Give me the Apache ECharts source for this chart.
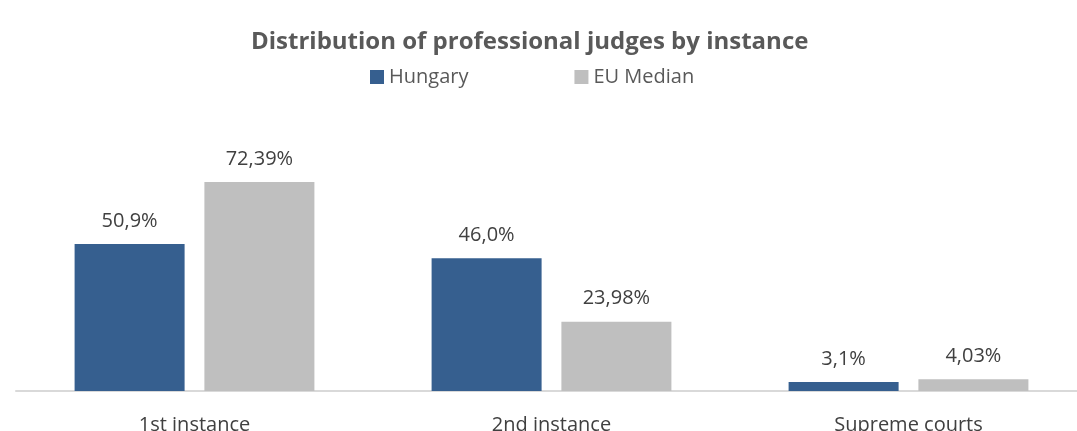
<!DOCTYPE html>
<html>
<head>
<meta charset="utf-8">
<script src="https://cdn.jsdelivr.net/npm/echarts@6/dist/echarts.min.js"></script>
<style>
  html, body { margin: 0; padding: 0; background: #fff; }
  #chart { width: 1077px; height: 431px; }
</style>
</head>
<body>
<div id="chart"></div>
<script>
var categories = ['1st instance', '2nd instance', 'Supreme courts'];
var hungary = [50.9, 46.0, 3.1];
var hungaryLabels = ['50,9%', '46,0%', '3,1%'];
var euMedian = [72.39, 23.98, 4.03];
var euLabels = ['72,39%', '23,98%', '4,03%'];

var font = '"Open Sans", Lato, sans-serif';
var myChart = echarts.init(document.getElementById('chart'));

function labelFrom(texts) {
    return {
        show: true,
        position: 'top',
        distance: 13,
        color: '#404040',
        fontSize: 20,
        fontFamily: font,
        formatter: function (p) { return texts[p.dataIndex]; }
    };
}

var option = {
    backgroundColor: '#fff',
    animation: false,
    title: {
        text: 'Distribution of professional judges by instance',
        left: 246,
        top: 25,
        textStyle: { color: '#595959', fontSize: 24, fontWeight: 'bold', fontFamily: font }
    },
    legend: {
        left: 365,
        top: 62,
        itemWidth: 14,
        itemHeight: 14,
        itemGap: 106,
        icon: 'rect',
        textStyle: { color: '#595959', fontSize: 20, fontFamily: font },
        data: ['Hungary', 'EU Median']
    },
    grid: { left: 16, top: 160, width: 1071, height: 231, outerBoundsMode: 'none' },
    xAxis: {
        type: 'category',
        data: categories,
        axisLine: { lineStyle: { color: '#d9d9d9', width: 2 } },
        axisTick: { show: false },
        axisLabel: { color: '#404040', fontSize: 20, fontFamily: font, margin: 24 }
    },
    yAxis: {
        type: 'value',
        min: 0,
        max: 80,
        show: false,
        splitLine: { show: false }
    },
    series: [
        {
            name: 'Hungary',
            type: 'bar',
            data: hungary,
            barWidth: 110,
            barGap: '18%',
            itemStyle: { color: '#365f8f' },
            label: labelFrom(hungaryLabels)
        },
        {
            name: 'EU Median',
            type: 'bar',
            data: euMedian,
            barWidth: 110,
            itemStyle: { color: '#bfbfbf' },
            label: labelFrom(euLabels)
        }
    ]
};
myChart.setOption(option);
</script>
</body>
</html>
